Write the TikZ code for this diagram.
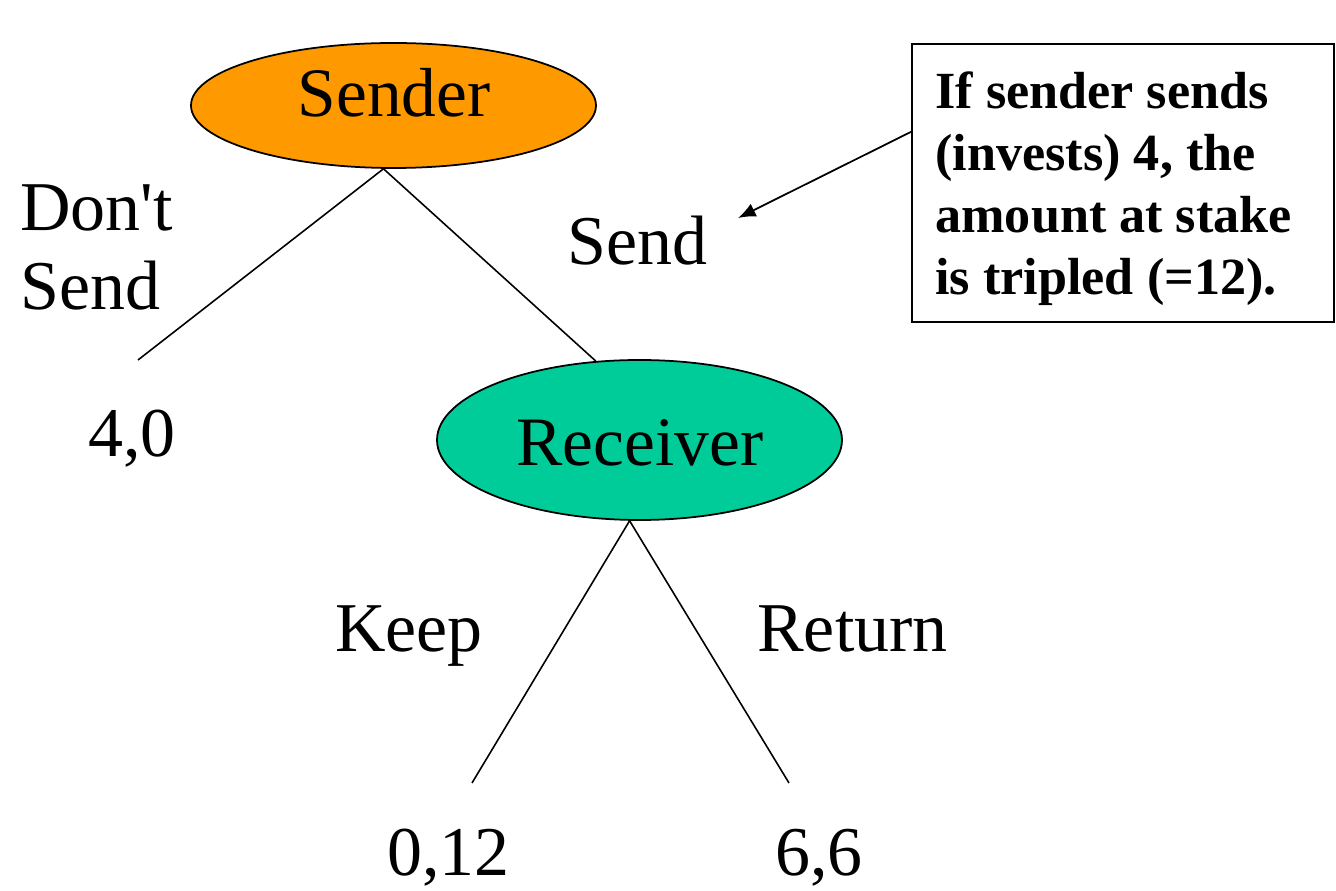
\documentclass[tikz,border=0pt]{standalone}
\usepackage{fontspec}
\setmainfont{Liberation Serif}[Ligatures=TeXOff]
\usetikzlibrary{shapes.geometric,arrows.meta,calc}
\definecolor{senderorange}{HTML}{FF9900}
\definecolor{receivergreen}{HTML}{00CC99}
\begin{document}
\begin{tikzpicture}[x=0.02cm,y=-0.02cm,
  player/.style={ellipse,draw=black,line width=1pt,inner sep=0pt,
    minimum width=405*0.02cm},
  playertext/.style={anchor=base,inner sep=0pt,font=\fontsize{39.5}{45}\selectfont},
  lbl/.style={anchor=base west,inner sep=0pt,font=\fontsize{39.8}{45.5}\selectfont,align=left},
  branch/.style={line width=0.9pt},
  note/.style={draw=black,line width=1pt,inner sep=0pt,
    minimum width=422*0.02cm,minimum height=278*0.02cm}]
\useasboundingbox (0,0) rectangle (1336,891);

% players
\node[player,fill=senderorange,minimum height=125*0.02cm] (sender) at (393.5,105.5) {};
\node[playertext] (sendertext) at (394,117) {Sender};
\node[player,fill=receivergreen,minimum height=160*0.02cm] (receiver) at (639.5,440) {};
\node[playertext] (receivertext) at (640,466) {Receiver};

% branch ends
\coordinate (dsend) at (138,360);
\coordinate (keepend) at (472,783);
\coordinate (retend) at (789,783);

\draw[branch] (sender.261) -- (dsend);
\draw[branch] (sender.261) -- (receiver.119.5);
\draw[branch] (receiver.263) -- (keepend);
\draw[branch] (receiver.263) -- (retend);

% action labels and payoffs (multi-line labels sit on their last baseline)
\node[lbl] (dontsend) at (20,310) {Don't\\Send};
\node[lbl] (send) at (567,265) {Send};
\node[lbl] (pay1) at (88,457) {4,0};
\node[lbl] (keep) at (335,652) {Keep};
\node[lbl] (return) at (757,652) {Return};
\node[lbl] (pay2) at (387,875) {0,12};
\node[lbl] (pay3) at (775,875) {6,6};

% explanatory note
\node[note] (box) at (1123,183) {};
\node[anchor=base west,inner sep=0pt,align=left,
  font=\fontsize{29.7}{35.4}\selectfont\bfseries] (notetext) at (935,295)
  {If sender sends\\(invests) 4, the\\amount at stake\\is tripled (=12).};
\coordinate (arrowtail) at ($(box.north west)!0.317!(box.south west)$);
\coordinate (arrowtip) at (738,218);
\draw[line width=1pt,-{Latex[length=10pt,width=8pt]}] (arrowtail) -- (arrowtip);
\end{tikzpicture}
\end{document}
